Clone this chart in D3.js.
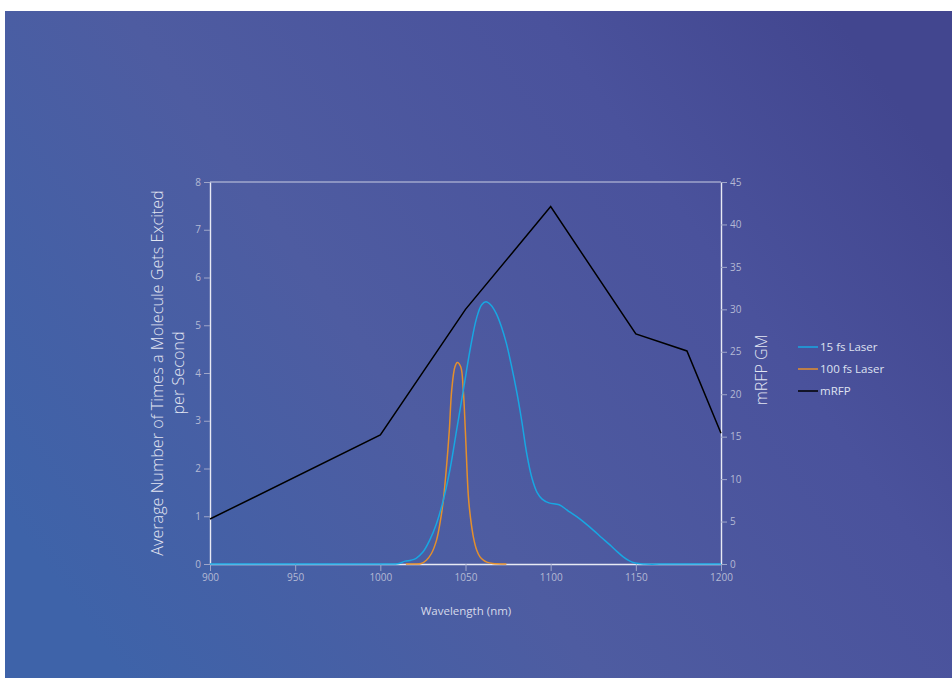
<!DOCTYPE html>
<html><head><meta charset="utf-8">
<script src="https://cdn.jsdelivr.net/npm/d3@7"></script>
<style>
html,body{margin:0;padding:0;background:#fff;}
svg text{font-family:"Open Sans","Lato",sans-serif;}
</style></head>
<body><svg id="c" width="952" height="678"></svg>
<script>
// Data
const xTicks = [900, 950, 1000, 1050, 1100, 1150, 1200];
const leftTicks = [0,1,2,3,4,5,6,7,8];
const rightTicks = [0,5,10,15,20,25,30,35,40,45];
const mrfpWl = [900, 1000, 1050, 1100, 1150, 1180, 1200];
const mrfpGM = [5.3, 15.2, 30, 42.1, 27.1, 25.1, 15.4];
const fs15Wl = [900, 950, 1000, 1011, 1014.5, 1018, 1021, 1025, 1029, 1033, 1037, 1041, 1045, 1049, 1053, 1056.5, 1059.5, 1062, 1065, 1068, 1071, 1074, 1077, 1080, 1083, 1086, 1089, 1092, 1095, 1099, 1105, 1110, 1115.3, 1120, 1125, 1130, 1134.8, 1139, 1142.6, 1146, 1149.5, 1155, 1170, 1200];
const fs15Val = [0, 0, 0, 0.01, 0.06, 0.08, 0.12, 0.25, 0.5, 0.85, 1.34, 2.0, 2.85, 3.7, 4.55, 5.15, 5.43, 5.49, 5.42, 5.25, 4.98, 4.62, 4.15, 3.62, 3.0, 2.3, 1.8, 1.5, 1.36, 1.28, 1.24, 1.12, 0.99, 0.86, 0.71, 0.55, 0.40, 0.26, 0.15, 0.07, 0.02, 0, 0, 0];
const fs100Wl = [1015, 1020, 1024, 1027, 1030, 1033, 1035, 1037, 1039, 1040.5, 1041.9, 1043.8, 1045.2, 1047.2, 1048.7, 1049.9, 1051.7, 1053, 1054.6, 1056.5, 1058.5, 1060.5, 1062.5, 1066, 1074];
const fs100Val = [0, 0, 0.01, 0.08, 0.22, 0.5, 0.85, 1.34, 2.1, 2.8, 3.64, 4.13, 4.22, 4.13, 3.64, 2.8, 1.41, 0.95, 0.57, 0.3, 0.15, 0.08, 0.04, 0.01, 0];
const legendLabels = ["15 fs Laser", "100 fs Laser", "mRFP"];
const colors = ["#18a7e2", "#e48f2c", "#000000"];

const svg = d3.select("#c");
const defs = svg.append("defs");
const g = defs.append("linearGradient").attr("id","bg").attr("x1","0").attr("y1","0.75").attr("x2","1").attr("y2","0.25");
g.append("stop").attr("offset","0%").attr("stop-color","#3e63a9");
g.append("stop").attr("offset","40%").attr("stop-color","#4e5ca1");
g.append("stop").attr("offset","75%").attr("stop-color","#4a529c");
g.append("stop").attr("offset","100%").attr("stop-color","#42468f");
svg.append("rect").attr("x",5).attr("y",11).attr("width",947).attr("height",667).attr("fill","url(#bg)");

const x = d3.scaleLinear().domain([900,1200]).range([210,721]);
const yL = d3.scaleLinear().domain([0,8]).range([564,182]);
const yR = d3.scaleLinear().domain([0,45]).range([564,182]);

const tickCol = "#b4b9d4";
svg.append("line").attr("x1",210).attr("x2",721).attr("y1",182).attr("y2",182).attr("stroke","#c9cde3").attr("stroke-width",1.2);

const ax = (sel) => {
  sel.selectAll(".domain").attr("stroke","#e8eaf4").attr("stroke-width",1.4);
  sel.selectAll(".tick line").attr("stroke","#9fa6c9");
  sel.selectAll(".tick text").attr("fill",tickCol).style("font-size","10px");
};
svg.append("g").attr("transform","translate(210,0)")
  .call(d3.axisLeft(yL).tickValues(leftTicks).tickSize(6).tickPadding(3).tickSizeOuter(0)).call(ax);
svg.append("g").attr("transform","translate(721,0)")
  .call(d3.axisRight(yR).tickValues(rightTicks).tickSize(6).tickPadding(3).tickSizeOuter(0)).call(ax);
svg.append("g").attr("transform","translate(0,564)")
  .call(d3.axisBottom(x).tickValues(xTicks).tickFormat(d3.format("d")).tickSize(7).tickPadding(3).tickSizeOuter(0)).call(ax);

svg.append("text").attr("transform","translate(163,373) rotate(-90)").attr("text-anchor","middle")
  .attr("fill","#e2e5f2").style("font-size","16.2px").style("font-weight","300")
  .text("Average Number of Times a Molecule Gets Excited");
svg.append("text").attr("transform","translate(184,373) rotate(-90)").attr("text-anchor","middle")
  .attr("fill","#e2e5f2").style("font-size","16.2px").style("font-weight","300")
  .text("per Second");
svg.append("text").attr("transform","translate(767,370) rotate(-90)").attr("text-anchor","middle")
  .attr("fill","#e2e5f2").style("font-size","16px").style("font-weight","300")
  .text("mRFP GM");
svg.append("text").attr("x",466).attr("y",615).attr("text-anchor","middle")
  .attr("fill","#d6d9ea").style("font-size","11.5px").text("Wavelength (nm)");

const lineL = d3.line().x(d=>x(d[0])).y(d=>yL(Math.max(0,d[1]))).curve(d3.curveCatmullRom.alpha(0.5));
const lineR = d3.line().x(d=>x(d[0])).y(d=>yR(d[1]));
svg.append("path").datum(mrfpWl.map((w,i)=>[w,mrfpGM[i]])).attr("d",lineR)
  .attr("fill","none").attr("stroke",colors[2]).attr("stroke-width",1.5);
svg.append("path").datum(fs100Wl.map((w,i)=>[w,fs100Val[i]])).attr("d",lineL)
  .attr("fill","none").attr("stroke",colors[1]).attr("stroke-width",1.5);
svg.append("path").datum(fs15Wl.map((w,i)=>[w,fs15Val[i]])).attr("d",lineL)
  .attr("fill","none").attr("stroke",colors[0]).attr("stroke-width",1.5);

legendLabels.forEach((lab,i)=>{
  const yy = 347 + i*22;
  svg.append("line").attr("x1",798).attr("x2",818).attr("y1",yy).attr("y2",yy)
    .attr("stroke",colors[i]).attr("stroke-width",1.5);
  svg.append("text").attr("x",820).attr("y",yy+4).attr("fill","#dfe2f0")
    .style("font-size","11.5px").text(lab);
});
</script></body></html>
